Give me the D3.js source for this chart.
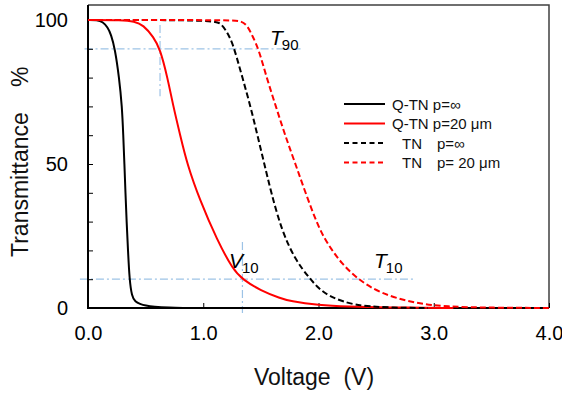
<!DOCTYPE html>
<html><head><meta charset="utf-8">
<script src="https://cdn.jsdelivr.net/npm/d3@7"></script>
<style>
body{margin:0;background:#fff;}
svg{display:block;font-family:"Liberation Sans",Arial,sans-serif;}
</style></head>
<body>
<svg id="chart" width="562" height="398"></svg>
<script>
// ---- data ----
const qtnInfV = [0, 0.08, 0.13, 0.17, 0.2, 0.234, 0.27, 0.295, 0.306, 0.316, 0.325, 0.335, 0.347, 0.36, 0.38, 0.41, 0.45, 0.5, 0.57, 0.7, 0.85];
const qtnInfT = [100, 100, 99.3, 97.5, 95, 90, 80, 70, 60, 50, 40, 30, 20, 10, 4, 2.2, 1.4, 0.8, 0.4, 0.1, 0];

const qtn20V = [0, 0.3, 0.4, 0.48, 0.57, 0.625, 0.69, 0.74, 0.8, 0.86, 0.97, 1.12, 1.26, 1.34, 1.5, 1.67, 1.75, 2.0, 2.25, 2.6, 3.17];
const qtn20T = [100, 100, 99.5, 98.3, 94, 90, 80, 70, 60, 50, 37.5, 23.6, 13.2, 10, 6, 3.4, 2.4, 1, 0.5, 0.2, 0];

const tnInfV = [0, 1.09, 1.16, 1.23, 1.27, 1.34, 1.41, 1.47, 1.53, 1.59, 1.68, 1.8, 1.93, 2.0, 2.1, 2.3, 2.6, 2.95];
const tnInfT = [100, 100, 98.8, 94.2, 90, 80, 70, 60, 50, 40, 27, 16.5, 10, 6.8, 3.9, 0.9, 0.1, 0];

const tn20V = [0, 1.26, 1.33, 1.38, 1.43, 1.48, 1.55, 1.63, 1.71, 1.8, 1.9, 2.01, 2.1, 2.2, 2.34, 2.53, 2.82, 3.11, 3.5, 4.0];
const tn20T = [100, 100, 99.6, 98.3, 94.2, 90, 80, 70, 60, 50, 38.5, 27, 21, 15.5, 10, 5.2, 1.7, 0.4, 0.1, 0];

const seriesNames = ["Q-TN p=\u221e", "Q-TN p=20 \u03bcm", "TN", "TN"];
const seriesSuffix = ["", "", "p=\u221e", "p= 20 \u03bcm"];

const xTickValues = [0, 1, 2, 3, 4];
const xTickLabels = ["0.0", "1.0", "2.0", "3.0", "4.0"];
const yTickValues = [0, 10, 20, 30, 40, 50, 60, 70, 80, 90, 100];
const yTickLabels = {0: "0", 50: "50", 100: "100"};

// reference markers
const t90 = 90, v90 = 0.625, t10 = 10, v10 = 1.34;

// ---- drawing ----
const svg = d3.select("#chart");
const x = d3.scaleLinear().domain([0, 4]).range([88, 549]);
const y = d3.scaleLinear().domain([0, 100]).range([308, 20]);
const yTop = 105.2;

const series = [
  {v: qtnInfV, t: qtnInfT, color: "#000", dash: null},
  {v: qtn20V, t: qtn20T, color: "#f00", dash: null},
  {v: tnInfV, t: tnInfT, color: "#000", dash: "6,3"},
  {v: tn20V, t: tn20T, color: "#f00", dash: "6,3"}
];

// guide lines (dash-dot light blue)
const guide = {stroke: "#9dc3e6", width: 1.2, dash: "8,3,2,3"};
function gline(x1, y1, x2, y2) {
  svg.append("line").attr("x1", x1).attr("y1", y1).attr("x2", x2).attr("y2", y2)
    .attr("stroke", guide.stroke).attr("stroke-width", guide.width).attr("stroke-dasharray", guide.dash);
}
gline(x(-0.03), y(t90), x(1.85), y(t90));
gline(x(v90), y(98.3), x(v90), y(73.5));
gline(x(-0.07), y(t10), x(2.84), y(t10));
gline(x(v10), y(22.9), x(v10), y(-1.7));

// frame (top and right)
svg.append("path")
  .attr("d", `M${x(0)},${y(yTop)}H${x(4)}V${y(0)}`)
  .attr("fill", "none").attr("stroke", "#404040").attr("stroke-width", 1.5);

// axes
const yAxis = d3.axisLeft(y).tickValues(yTickValues).tickSize(-5).tickSizeOuter(0)
  .tickPadding(20).tickFormat(d => yTickLabels[d] !== undefined ? yTickLabels[d] : "");
const gy = svg.append("g").attr("transform", `translate(${x(0)},0)`).call(yAxis);
gy.select(".domain").remove();
gy.selectAll(".tick line").attr("stroke", "#000").attr("stroke-width", 1);
gy.selectAll("text").attr("font-size", 20).attr("fill", "#000").attr("font-family", "Liberation Sans, Arial, sans-serif");

const xAxis = d3.axisBottom(x).tickValues(xTickValues).tickSize(-5).tickSizeOuter(0)
  .tickPadding(18).tickFormat((d, i) => xTickLabels[i]);
const gx = svg.append("g").attr("transform", `translate(0,${y(0)})`).call(xAxis);
gx.select(".domain").remove();
gx.selectAll(".tick line").attr("stroke", "#000").attr("stroke-width", 1);
gx.selectAll("text").attr("font-size", 20).attr("fill", "#000").attr("font-family", "Liberation Sans, Arial, sans-serif");

// left & bottom axis lines
svg.append("path").attr("d", `M${x(0)},${y(yTop)}V${y(0)}H${x(4)}`)
  .attr("fill", "none").attr("stroke", "#000").attr("stroke-width", 2);

// curves (drawn over the axis lines, as in the reference)
const line = d3.line().x(d => x(d[0])).y(d => y(d[1])).curve(d3.curveBasis);
series.forEach(s => {
  const pts = s.v.map((v, i) => [v, s.t[i]]);
  svg.append("path").datum(pts).attr("d", line)
    .attr("fill", "none").attr("stroke", s.color).attr("stroke-width", 2)
    .attr("stroke-dasharray", s.dash);
});

// axis titles
svg.append("text").attr("x", 314).attr("y", 385).attr("text-anchor", "middle")
  .attr("font-size", 23).attr("fill", "#111").attr("xml:space", "preserve").text("Voltage  (V)");
svg.append("text").attr("transform", "translate(28,257) rotate(-90)")
  .attr("font-size", 23).attr("fill", "#111").text("Transmittance");
svg.append("text").attr("transform", "translate(28,87) rotate(-90)")
  .attr("font-size", 23).attr("fill", "#111").text("%");

// annotation labels
function sublabel(px, py, main, sub) {
  const t = svg.append("text").attr("x", px).attr("y", py).attr("fill", "#000");
  t.append("tspan").attr("font-size", 21).attr("font-style", "italic").text(main);
  t.append("tspan").attr("font-size", 15).attr("dy", 5).attr("dx", -1).text(sub);
}
sublabel(270, 45, "T", "90");
sublabel(229, 268, "V", "10");
sublabel(374, 268, "T", "10");

// legend
const legY = [104, 123.5, 143, 162.5];
series.forEach((s, i) => {
  svg.append("line").attr("x1", 344).attr("x2", 385).attr("y1", legY[i]).attr("y2", legY[i])
    .attr("stroke", s.color).attr("stroke-width", 2).attr("stroke-dasharray", s.dash ? "5,3.5" : null);
  if (i < 2) {
    svg.append("text").attr("x", 392).attr("y", legY[i] + 5.5).attr("font-size", 15).attr("fill", "#111")
      .text(seriesNames[i]);
  } else {
    svg.append("text").attr("x", 402).attr("y", legY[i] + 5.5).attr("font-size", 15).attr("fill", "#111")
      .text(seriesNames[i]);
    svg.append("text").attr("x", 437).attr("y", legY[i] + 5.5).attr("font-size", 15).attr("fill", "#111")
      .text(seriesSuffix[i]);
  }
});
</script>
</body></html>
